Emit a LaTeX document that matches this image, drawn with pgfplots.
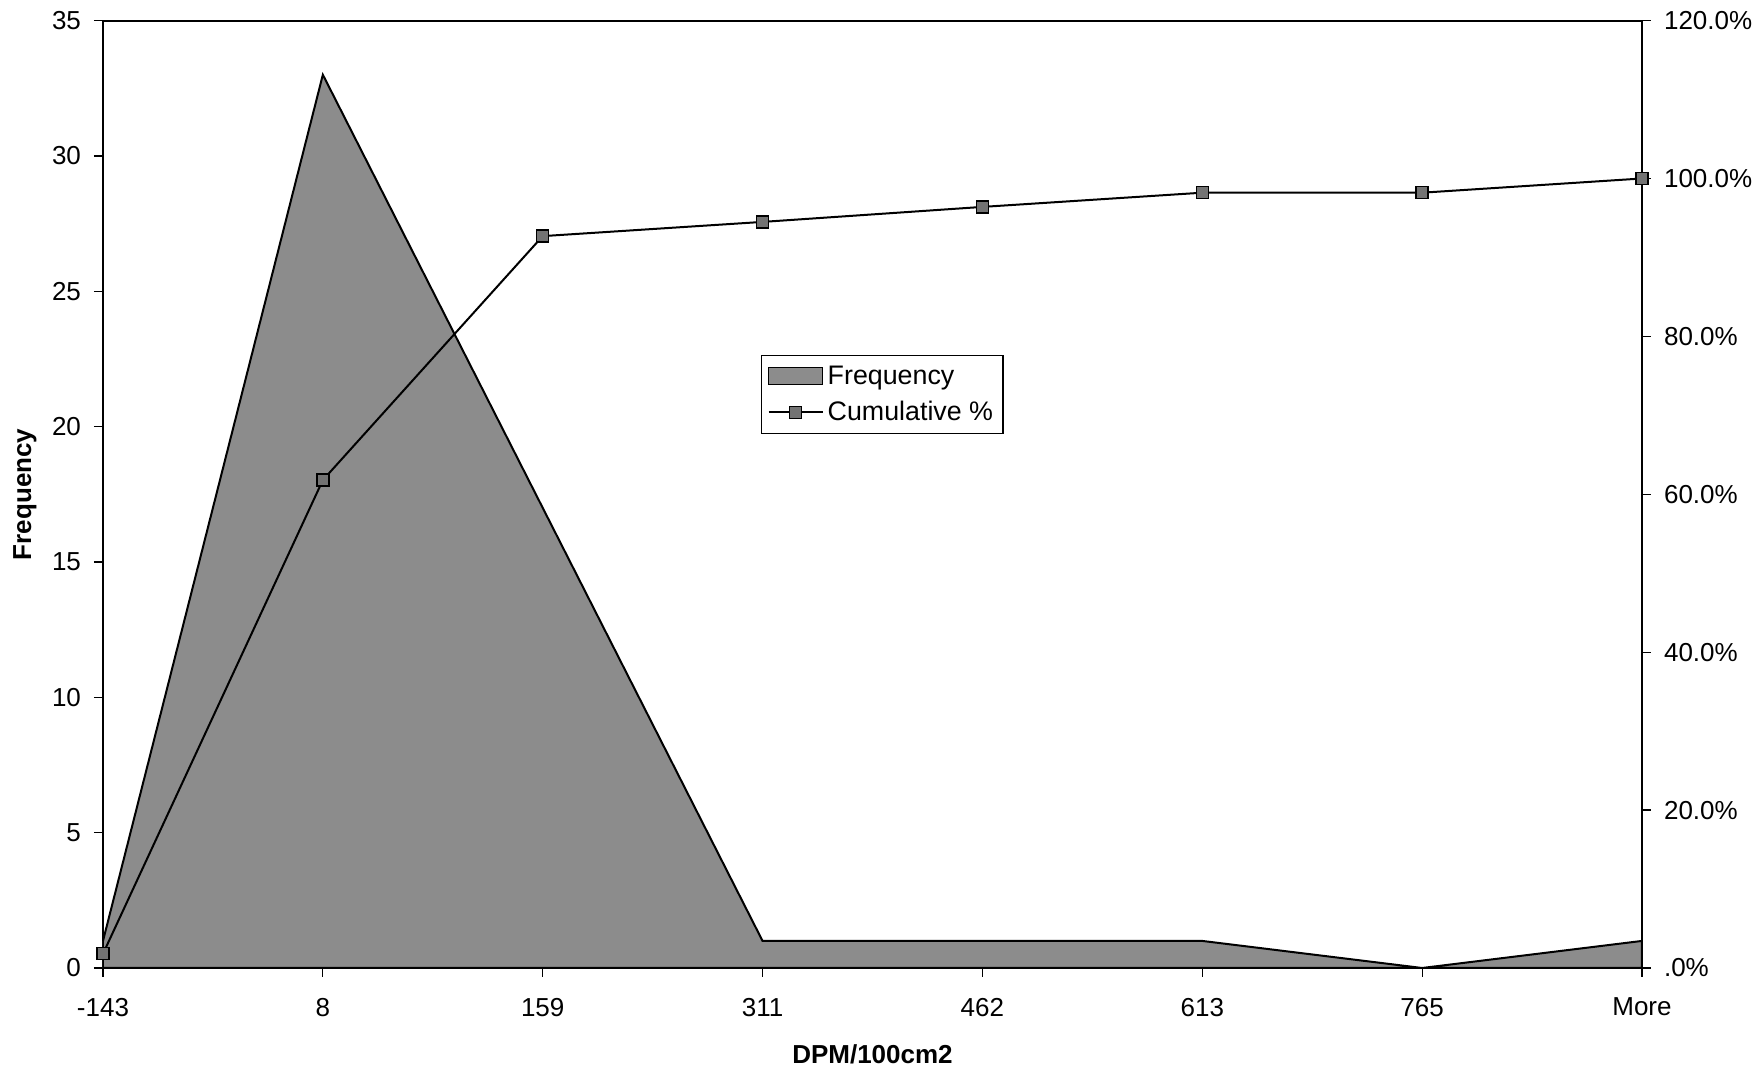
\documentclass[border=0pt]{standalone}
\usepackage{pgfplots}
\pgfplotsset{compat=1.18}
\usepackage{fontspec}
\setmainfont{Liberation Sans}
\begin{document}
\begin{tikzpicture}
\pgfplotsset{
  common/.style={
    scale only axis, width=769.5pt, height=473.7pt,
    at={(0,0)}, anchor=south west,
    xmin=0, xmax=7,
    tick align=outside, major tick length=4.5pt,
    tick style={black, line width=0.6pt},
    ticklabel style={font=\fontsize{13}{15}\selectfont},
    /pgf/number format/assume math mode=true,
  }
}
\path[use as bounding box] (-51.5pt,-51pt) rectangle (827.5pt,484pt);
\begin{axis}[common,
  ymin=0, ymax=35, ytick={0,5,...,35},
  axis y line*=left, axis x line*=bottom,
  axis line style={black, line width=1pt},
  xtick={0,...,7},
  xticklabels={-143,8,159,311,462,613,765,More},
  xticklabel style={yshift=-7pt},
  yticklabel style={xshift=-3pt},
  xlabel={\bfseries DPM/100cm2},
  xlabel style={at={(rel axis cs:0.5,0)}, anchor=center, yshift=-43pt, font=\fontsize{13}{15}\selectfont},
  ylabel={\bfseries Frequency},
  ylabel style={at={(axis description cs:-0.0507,0.5)}, anchor=center, font=\fontsize{13}{15}\selectfont},
  legend style={at={(rel axis cs:0.4276,0.647)}, anchor=north west, draw=black, line width=0.6pt,
    font=\fontsize{13.4}{15}\selectfont, inner xsep=3pt, inner ysep=3pt, row sep=3pt, cells={anchor=west}},
  legend image code/.code={\draw[#1, line width=0.6pt] (0cm,-0.15cm) rectangle (0.95cm,0.15cm);},
]
\addplot[fill=black!45, draw=black, line width=1pt] coordinates {
(0,1) (1,33) (2,17) (3,1) (4,1) (5,1) (6,0) (7,1)
} \closedcycle;
\addlegendentry{Frequency}
\addlegendimage{line legend,
  legend image code/.code={\draw[black, line width=1pt] (0cm,0cm) -- (0.95cm,0cm); \draw[black, fill=black!55, line width=0.7pt] (0.475cm-3pt,-3pt) rectangle (0.475cm+3pt,3pt);}}
\addlegendentry{Cumulative \%}
\draw[black, line width=1pt] (rel axis cs:0,1) -- (rel axis cs:1,1);
\end{axis}
\begin{axis}[common,
  ymin=0, ymax=120, ytick={0,20,...,120},
  yticklabels={.0\%,20.0\%,40.0\%,60.0\%,80.0\%,100.0\%,120.0\%},
  axis y line*=right, axis x line=none,
  axis line style={black, line width=1pt},
  yticklabel style={xshift=3pt},
]
\addplot[black, line width=1pt, mark=square*, mark size=3pt, mark options={fill=black!55, draw=black, line width=0.7pt}] coordinates {
(0,1.8) (1,61.8) (2,92.7) (3,94.5) (4,96.4) (5,98.2) (6,98.2) (7,100)
};
\end{axis}
\end{tikzpicture}
\end{document}
